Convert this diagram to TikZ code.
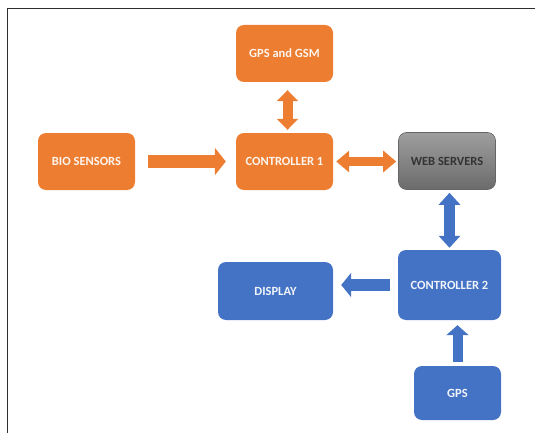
\documentclass[tikz,border=0pt]{standalone}
\usepackage{fontspec}
\setmainfont{Carlito}
\usetikzlibrary{arrows.meta,calc}
\definecolor{orng}{HTML}{ED7D31}
\definecolor{blu}{HTML}{4472C4}
\definecolor{frm}{HTML}{2E2E2E}
\begin{document}
\begin{tikzpicture}[x=1pt,y=-1pt,
  box/.style={rounded corners=8pt,minimum width=97pt,minimum height=57pt,inner sep=0pt,
    text=white!92!orng,font=\fontsize{12.5}{14}\selectfont\bfseries},
  obox/.style={box,fill=orng},
  bbox/.style={box,fill=blu,text=white!92!blu},
  gbox/.style={box,top color=black!38,bottom color=black!58,draw=black!60,line width=0.6pt,text=black!80},
  oarr/.style={draw=orng,line width=11pt},
  barr/.style={draw=blu,line width=11pt}]
\useasboundingbox (0,0) rectangle (535,433);
\begin{scope}
\clip (0,0) rectangle (535,433);
\draw[frm,line width=1.8pt] (7.5,460) -- (7.5,8.5) -- (560,8.5);
\end{scope}
\node[obox] (gsm) at (284.5,53.5) {GPS and GSM};
\node[obox] (bio) at (86.5,161.5) {BIO SENSORS};
\node[obox] (c1) at (284.5,161.5) {CONTROLLER 1};
\node[gbox] (web) at (447,161) {WEB SERVERS};
\node[bbox,minimum width=103pt,minimum height=70pt] (c2) at (449.5,285) {CONTROLLER 2};
\node[bbox,minimum width=115pt,minimum height=58pt] (disp) at (275.5,291) {DISPLAY};
\node[bbox,minimum width=87pt,minimum height=54pt] (gps) at (457.5,393) {GPS};
% arrows
\draw[oarr,line width=13pt,shorten <=13pt,shorten >=10pt,-{Triangle[length=11pt,width=27pt]}] (bio.east) -- (c1.west);
\draw[oarr,line width=10pt,shorten <=8pt,shorten >=3pt,{Triangle[length=11pt,width=21pt]}-{Triangle[length=11pt,width=21pt]}]
  ($(gsm.south)+(3,0)$) -- ($(c1.north)+(3,0)$);
\draw[oarr,line width=9pt,shorten <=3pt,shorten >=2pt,{Triangle[length=13pt,width=21pt]}-{Triangle[length=13pt,width=21pt]}]
  (c1.east) -- (c1.east -| web.west);
\draw[barr,line width=11pt,shorten <=3pt,shorten >=2pt,{Triangle[length=12pt,width=21pt]}-{Triangle[length=12pt,width=21pt]}]
  (c2.north |- web.south) -- (c2.north);
\draw[barr,line width=12pt,shorten <=8pt,shorten >=8pt,-{Triangle[length=10pt,width=24pt]}]
  (c2.west) -- (c2.west -| disp.east);
\draw[barr,line width=10pt,shorten <=4pt,shorten >=5pt,-{Triangle[length=10pt,width=22pt]}]
  (gps.north) -- (gps.north |- c2.south);
\end{tikzpicture}
\end{document}
